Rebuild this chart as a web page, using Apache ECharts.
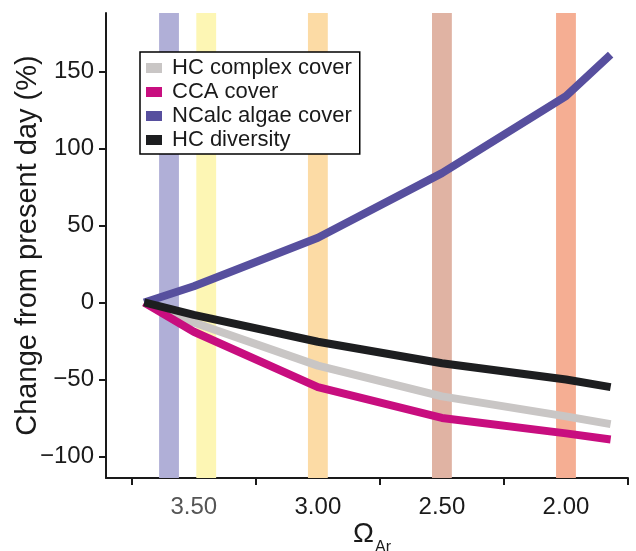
<!DOCTYPE html>
<html>
<head>
<meta charset="utf-8">
<script src="https://cdn.jsdelivr.net/npm/echarts@6/dist/echarts.min.js"></script>
<style>
html,body{margin:0;padding:0;background:#fff;}
#c{width:636px;height:551px;}
</style>
</head>
<body>
<div id="c"></div>
<script>
// Omega aragonite values (x) of the line vertices
var omega = [3.7, 3.5, 3.0, 2.5, 2.0, 1.82];
// Series values: change from present day (%)
var hcComplex = [0, -13, -41, -61, -74, -79];
var ccaCover = [0, -19, -55, -75, -85, -89];
var ncalcAlgae = [0, 10.5, 42, 84, 134, 161];
var hcDiversity = [0, -8, -25.5, -39.5, -50, -55];
var seriesNames = ['HC complex cover', 'CCA cover', 'NCalc algae cover', 'HC diversity'];
// Vertical shaded bands (Omega centers)
var bandCenters = [3.6, 3.45, 3.0, 2.5, 2.0];
var bandColors = ['#b0afd7', '#fdf6b4', '#fcdba5', '#e0b3a3', '#f5ae93'];
// Tick labels
var xLabelValues = [3.5, 3.0, 2.5, 2.0];
var xTickValues = [3.75, 3.25, 2.75, 2.25, 1.75];
var yTickValues = [-100, -50, 0, 50, 100, 150];

var lineColors = ['#c9c6c5', '#c80e7f', '#574f9e', '#1d1e20'];
var bandHalf = 0.04;

function pairs(vals) {
  return omega.map(function (x, i) { return [x, vals[i]]; });
}

var chart = echarts.init(document.getElementById('c'), null, {renderer: 'canvas'});
var FONT = 'Liberation Sans, Arial, sans-serif';

var markData = bandCenters.map(function (c, i) {
  return [{xAxis: c + bandHalf, itemStyle: {color: bandColors[i], opacity: 1}}, {xAxis: c - bandHalf}];
});

var allVals = [hcComplex, ccaCover, ncalcAlgae, hcDiversity];
var series = [{
  type: 'line',
  name: '_bands',
  data: [],
  silent: true,
  z: 1,
  markArea: {silent: true, data: markData}
}];
allVals.forEach(function (v, i) {
  series.push({
    type: 'line',
    name: seriesNames[i],
    data: pairs(v),
    showSymbol: false,
    symbol: 'none',
    z: 3 + i,
    color: lineColors[i],
    lineStyle: {width: 8, color: lineColors[i], cap: 'butt', join: 'round'},
    itemStyle: {color: lineColors[i]},
    animation: false
  });
});

chart.setOption({
  animation: false,
  backgroundColor: '#fff',
  grid: {left: 106, right: 8, top: 13, bottom: 73, containLabel: false, outerBoundsMode: 'none'},
  legend: {
    data: seriesNames,
    orient: 'vertical',
    left: 140,
    top: 52,
    icon: 'rect',
    itemWidth: 16,
    itemHeight: 10,
    itemGap: 2,
    padding: [5, 8, 3, 6],
    backgroundColor: '#fff',
    borderColor: '#000',
    borderWidth: 1.5,
    borderRadius: 0,
    z: 10,
    textStyle: {fontFamily: FONT, fontSize: 22, color: '#1a1a1a', padding: [0, 0, 0, 5]}
  },
  xAxis: {
    type: 'value',
    inverse: true,
    min: 1.75,
    max: 3.854,
    splitLine: {show: false},
    axisLine: {show: true, onZero: false, lineStyle: {color: '#1a1a1a', width: 2}},
    axisTick: {show: true, length: 7, lineStyle: {color: '#1a1a1a', width: 2}, customValues: xTickValues},
    axisLabel: {
      fontFamily: FONT, fontSize: 24, margin: 17, color: '#1a1a1a',
      customValues: xLabelValues,
      formatter: function (v) {
        var s = v.toFixed(2);
        return v === 3.5 ? '{g|' + s + '}' : s;
      },
      rich: {g: {fontFamily: FONT, fontSize: 24, color: '#555'}}
    },
    name: '{o|Ω}{s|Ar}',
    nameLocation: 'middle',
    nameGap: 42,
    nameMoveOverlap: false,
    nameTextStyle: {
      fontFamily: FONT,
      rich: {
        o: {fontFamily: FONT, fontSize: 28, color: '#1a1a1a', verticalAlign: 'bottom', padding: [0, 0, 8, 10]},
        s: {fontFamily: FONT, fontSize: 16, color: '#1a1a1a', verticalAlign: 'bottom', padding: [0, 0, 0, 1]}
      }
    }
  },
  yAxis: {
    type: 'value',
    min: -114,
    max: 188,
    splitLine: {show: false},
    axisLine: {show: true, onZero: false, lineStyle: {color: '#1a1a1a', width: 2}},
    axisTick: {show: true, length: 7, lineStyle: {color: '#1a1a1a', width: 2}, customValues: yTickValues},
    axisLabel: {
      fontFamily: FONT, fontSize: 24, margin: 12, color: '#1a1a1a', customValues: yTickValues,
      formatter: function (v) { return v < 0 ? '\u2212' + Math.abs(v) : String(v); }
    },
    name: 'Change from present day (%)',
    nameLocation: 'middle',
    nameGap: 64,
    nameMoveOverlap: false,
    nameTextStyle: {fontFamily: FONT, fontSize: 29, color: '#1a1a1a'}
  },
  series: series
});
</script>
</body>
</html>
